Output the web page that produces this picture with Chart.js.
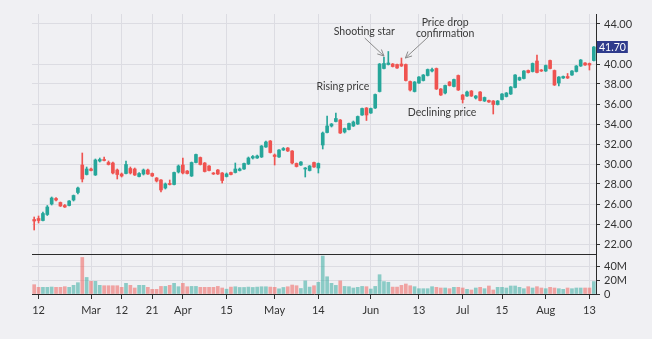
<!DOCTYPE html>
<html><head><meta charset="utf-8">
<script src="https://cdn.jsdelivr.net/npm/chart.js@4.4.0/dist/chart.umd.min.js"></script>
<style>
html,body{margin:0;padding:0;background:#f0f0f3;}
#wrap{width:652px;height:339px;position:relative;}
</style></head><body>
<div id="wrap"><canvas id="c" width="652" height="339"></canvas></div>
<script>
const openP = [24.45,24.55,24.35,24.95,26.0,26.55,26.15,25.85,25.85,26.4,
27.15,29.9,28.95,29.5,28.9,30.3,30.45,30.15,30.1,29.4,
29.0,29.05,29.55,29.5,28.75,29.0,29.4,29.05,28.6,28.4,
27.6,28.05,27.95,29.2,29.9,29.3,28.8,30.15,30.65,30.1,
29.8,29.1,29.4,29.1,28.75,29.15,29.15,29.35,29.5,30.0,
30.6,30.6,30.7,31.7,32.3,30.9,30.7,31.4,31.6,31.3,
30.05,29.9,29.5,29.35,30.15,29.6,31.9,33.15,33.8,34.25,
34.4,33.2,33.45,33.8,34.0,34.9,35.6,35.1,35.6,37.25,
39.55,39.95,40.0,39.95,40.0,39.95,38.25,37.25,38.1,38.35,
38.85,39.3,39.55,37.5,37.1,38.2,37.75,38.85,36.9,36.8,
37.3,36.6,37.2,36.3,36.35,36.3,35.95,36.45,36.75,37.0,
37.65,38.4,38.55,39.35,39.25,40.3,39.4,39.3,40.35,39.35,
38.1,38.6,38.75,38.9,39.25,39.8,40.1,40.05,40.35];
const highP = [24.7,24.8,25.2,25.85,26.7,26.65,26.2,25.95,26.35,26.9,
27.7,31.1,29.7,29.6,30.5,30.6,30.7,30.3,30.2,29.5,
29.1,30.3,29.7,29.6,29.15,29.5,29.5,29.1,28.65,28.45,
28.1,28.4,29.2,29.9,30.6,29.35,30.2,31.0,30.7,30.15,
29.85,29.15,29.45,29.15,29.1,29.2,30.1,29.6,30.1,30.7,
30.85,30.9,31.85,32.3,32.35,31.0,31.45,31.65,31.65,31.35,
30.1,30.25,29.65,29.85,30.2,30.1,33.2,34.8,34.05,35.1,
34.45,33.6,34.1,34.3,34.8,35.6,35.65,35.6,37.0,40.05,
40.7,41.25,40.05,40.0,40.6,40.0,38.3,38.25,38.75,38.95,
39.5,39.6,39.6,37.55,37.9,38.25,38.5,38.9,36.95,37.3,
37.35,36.85,37.25,36.7,36.4,36.35,36.35,37.05,37.15,37.75,
38.95,38.7,39.35,39.4,40.1,40.9,39.45,39.9,40.4,39.4,
38.75,38.8,39.05,39.35,39.85,40.45,40.15,40.1,41.75];
const lowP = [23.4,24.1,24.3,24.85,25.9,26.3,25.75,25.65,25.8,26.3,
27.0,28.2,28.9,29.3,28.85,30.2,30.3,29.9,29.0,28.5,
28.7,29.0,29.0,28.85,28.7,28.9,28.95,28.75,28.2,27.2,
27.5,27.9,27.9,29.1,29.0,29.0,28.75,30.1,29.9,29.2,
29.3,28.95,28.95,28.1,28.7,28.9,29.1,29.3,29.45,29.95,
30.5,30.55,30.65,31.65,31.1,29.9,30.65,31.35,31.25,30.0,
29.7,29.85,28.7,29.3,29.65,29.1,31.5,33.1,33.7,34.2,
33.05,33.1,33.4,33.75,33.95,34.85,34.35,35.05,35.55,37.2,
39.5,39.9,39.7,39.55,39.75,38.3,37.3,37.2,38.05,38.3,
38.8,39.2,37.45,36.85,37.0,37.8,37.7,37.35,36.1,36.75,
36.75,36.5,36.3,36.25,36.15,35.0,35.9,36.4,36.7,36.95,
37.6,38.35,38.5,39.1,39.2,39.1,39.25,39.25,39.5,37.85,
37.8,38.55,38.55,38.85,39.2,39.75,39.85,39.4,40.3];
const closeP = [24.3,24.35,25.05,25.7,26.6,26.4,25.8,25.7,26.3,26.85,
27.6,28.5,29.5,29.35,30.4,30.45,30.35,29.95,29.1,28.95,
28.8,29.95,29.1,28.9,29.05,29.4,29.0,28.8,28.3,27.4,
28.0,27.95,29.15,29.8,29.1,29.05,30.15,30.95,29.95,29.25,
29.35,29.0,29.0,28.35,29.0,28.95,29.5,29.5,30.05,30.6,
30.75,30.8,31.8,32.2,31.15,30.75,31.4,31.55,31.3,30.1,
29.75,30.2,29.6,29.8,29.7,30.05,33.1,33.8,34.0,34.55,
33.1,33.55,34.05,34.2,34.75,35.55,34.9,35.55,36.95,40.0,
40.05,40.1,39.75,39.6,39.8,38.35,37.4,38.2,38.7,38.9,
39.45,39.45,37.5,36.9,37.85,37.85,38.45,37.4,36.45,37.2,
36.8,36.8,36.35,36.65,36.2,35.95,36.3,37.0,37.1,37.7,
38.9,38.65,39.3,39.15,40.05,39.15,39.3,39.85,39.55,37.9,
38.7,38.75,38.6,39.3,39.8,40.4,39.9,39.9,41.7];
const volumeM = [13.5,9.7,9.7,9.7,10.1,9.7,9.7,10.6,9.7,12.6,
16.4,53,24,18.4,18.4,12.6,12,12,12,12,
9.7,15.5,12.6,8.7,12.6,12.6,9.7,6.8,6.8,11,
11,12.6,15.5,10.6,15.5,10.5,11,11,9.7,9.7,
9.7,9.7,11,8.7,7,10,10.5,9.5,9.5,10,
9.5,10,10.5,10.5,10,9.7,7.5,9.5,10.5,13,
12,8,19,10,12,17,55,25,15.5,12.5,
19,11,10.6,8.7,9.7,11,10.6,7.2,11,28,
18,17,10,10,12.5,14.5,12,10.6,7.7,7.7,
7.7,10.6,9.7,8.7,8.7,7.7,9.7,9.7,8.7,6.8,
5.8,8.7,9.7,7.7,11.6,5.8,9.7,9.7,8.7,11.6,
11.6,9.7,7.7,10.6,8.7,10.6,8.7,7.7,9.7,8.7,
7.7,6.8,8.7,7.7,8.7,8.7,8.7,8.7,18];
const categories = closeP.map((_, i) => 'D' + (i + 1));
const tickPositions = [1,13,20,27,34,44,55,65,77,88,98,107,117,127];
const tickLabels = ['12','Mar','12','21','Apr','15','May','14','Jun','13','Jul','15','Aug','13'];
const priceTicks = [22,24,26,28,30,32,34,36,38,40,42,44];
const volumeTicks = [0,20,40];
const notes = [
  {lines:['Shooting star'], x:75.5, y:43.2},
  {lines:['Price drop','confirmation'], x:94.0, y:44.1},
  {lines:['Rising price'], x:70.6, y:37.7},
  {lines:['Declining price'], x:93.3, y:35.1}
];
const arrows = [
  {x1:75.6, y1:42.6, x2:80.0, y2:40.8},
  {x1:90.1, y1:42.7, x2:84.9, y2:40.6}
];

const UP = '#26a69a', DOWN = '#ef5350';
const UPV = 'rgba(38,166,154,0.5)', DOWNV = 'rgba(239,83,80,0.5)';
const isUp = closeP.map((c, i) => c >= openP[i]);
const candleColors = isUp.map(u => u ? UP : DOWN);
const volColors = isUp.map(u => u ? UPV : DOWNV);
const FONT = 'Lato';
const lastClose = closeP[closeP.length - 1];

const overlay = {
  id: 'overlay',
  afterDraw(chart) {
    const ctx = chart.ctx, x = chart.scales.x, y = chart.scales.y, yv = chart.scales.yv;
    const ca = chart.chartArea;
    ctx.save();
    ctx.strokeStyle = '#2b2b2b'; ctx.lineWidth = 1;
    ctx.beginPath(); ctx.moveTo(ca.left, Math.round(yv.top) + 0.5); ctx.lineTo(ca.right, Math.round(yv.top) + 0.5); ctx.stroke();
    const ly = y.getPixelForValue(lastClose);
    ctx.font = '10.5px "' + FONT + '"';
    const tw = ctx.measureText(lastClose.toFixed(2)).width;
    ctx.fillStyle = '#2f3b8c';
    ctx.fillRect(ca.right + 1, Math.round(ly - 6), tw + 4, 12);
    ctx.fillStyle = '#ffffff';
    ctx.textAlign = 'left'; ctx.textBaseline = 'middle';
    ctx.fillText(lastClose.toFixed(2), ca.right + 3, ly + 0.5);
    ctx.fillStyle = '#3a3a3a';
    ctx.font = '10.5px "' + FONT + '"';
    ctx.textAlign = 'center';
    notes.forEach(n => {
      const px = x.getPixelForValue(n.x), py = y.getPixelForValue(n.y);
      n.lines.forEach((t, k) => ctx.fillText(t, px, py + k * 11));
    });
    ctx.strokeStyle = '#8a8a8a'; ctx.lineWidth = 1;
    arrows.forEach(a => {
      const x1 = x.getPixelForValue(a.x1), y1 = y.getPixelForValue(a.y1);
      const x2 = x.getPixelForValue(a.x2), y2 = y.getPixelForValue(a.y2);
      const ang = Math.atan2(y2 - y1, x2 - x1);
      ctx.beginPath(); ctx.moveTo(x1, y1); ctx.lineTo(x2, y2); ctx.stroke();
      ctx.beginPath();
      ctx.moveTo(x2 - 7 * Math.cos(ang - 0.45), y2 - 7 * Math.sin(ang - 0.45));
      ctx.lineTo(x2, y2);
      ctx.lineTo(x2 - 7 * Math.cos(ang + 0.45), y2 - 7 * Math.sin(ang + 0.45));
      ctx.stroke();
    });
    ctx.restore();
  }
};

new Chart(document.getElementById('c'), {
  type: 'bar',
  data: {
    labels: categories,
    datasets: [
      { data: openP.map((o, i) => [o, closeP[i]]), backgroundColor: candleColors, yAxisID: 'y',
        barThickness: 3, minBarLength: 1, grouped: false },
      { data: lowP.map((l, i) => [l, highP[i]]), backgroundColor: candleColors, yAxisID: 'y',
        barThickness: 1, grouped: false },
      { data: volumeM, backgroundColor: volColors, yAxisID: 'yv', barThickness: 3, grouped: false }
    ]
  },
  options: {
    responsive: false, animation: false,
    layout: { padding: { top: 14, left: 32, right: 0, bottom: 0 } },
    plugins: { legend: { display: false }, tooltip: { enabled: false } },
    scales: {
      x: {
        type: 'category', offset: true,
        afterBuildTicks: s => { s.ticks = tickPositions.map(v => ({ value: v })); },
        afterFit: s => { s.height = 45; },
        ticks: { autoSkip: false, maxRotation: 0, padding: 5, color: '#333', font: { family: FONT, size: 11 },
          callback: (v, i) => tickLabels[i] },
        grid: { offset: false, color: '#dcdce2', tickColor: '#333', tickLength: 5 },
        border: { color: '#2b2b2b' }
      },
      y: {
        position: 'right', stack: 'panes', stackWeight: 6, min: 21, max: 45,
        afterBuildTicks: s => { s.ticks = priceTicks.filter(v => Math.abs(v - lastClose) > 0.6).map(v => ({ value: v })); },
        afterFit: s => { s.width = 56; },
        ticks: { autoSkip: false, padding: 4, color: '#333', font: { family: FONT, size: 11 }, callback: v => v.toFixed(2) },
        grid: { color: '#dcdce2', tickColor: '#333', tickLength: 4 },
        border: { color: '#2b2b2b' }
      },
      yv: {
        position: 'right', stack: 'panes', stackWeight: 1, min: 0, max: 58,
        afterBuildTicks: s => { s.ticks = volumeTicks.map(v => ({ value: v })); },
        afterFit: s => { s.width = 56; },
        ticks: { autoSkip: false, padding: 4, color: '#333', font: { family: FONT, size: 11 }, callback: v => v === 0 ? '0' : v + 'M' },
        grid: { color: '#dcdce2', tickColor: '#333', tickLength: 4 },
        border: { color: '#2b2b2b' }
      }
    }
  },
  plugins: [overlay]
});
</script>
</body></html>
